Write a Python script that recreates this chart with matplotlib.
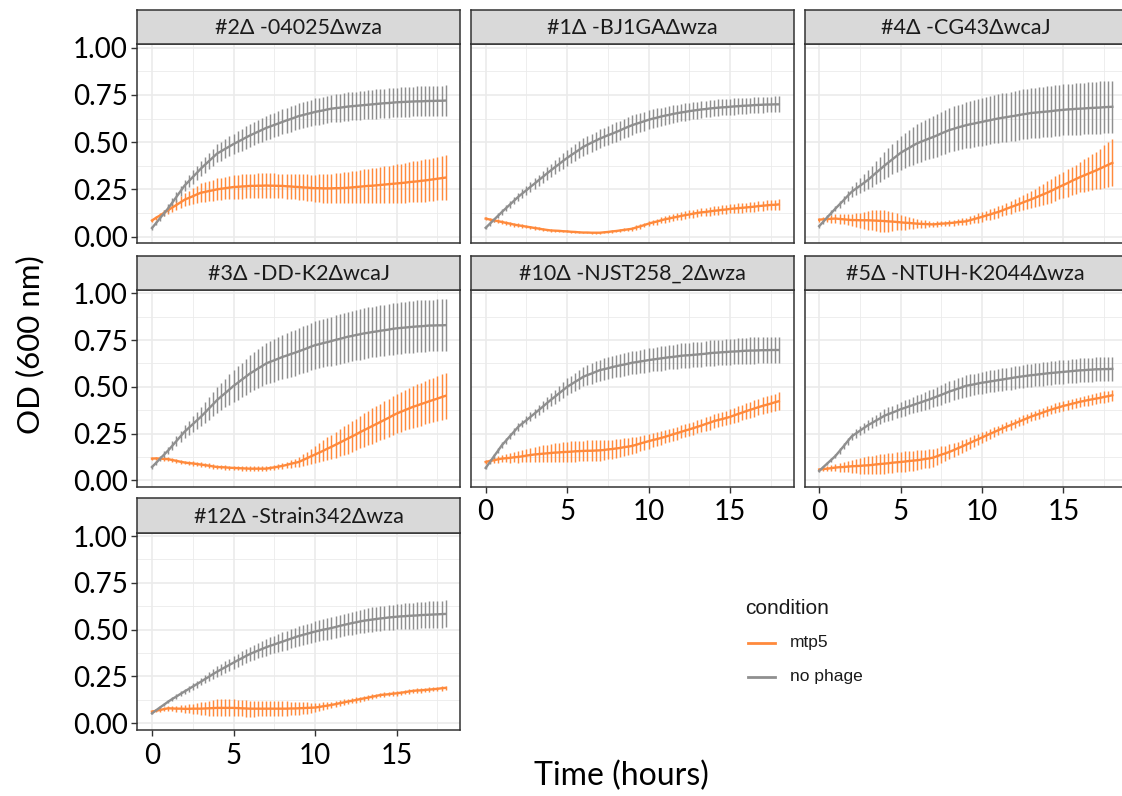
import numpy as np
import matplotlib.pyplot as plt
from matplotlib.lines import Line2D
from matplotlib.ticker import MultipleLocator, FuncFormatter

W, H = 1122, 796
MAIN = ['Lato', 'DejaVu Sans']
LEG = ['Liberation Sans', 'DejaVu Sans']

ORANGE = '#FF8A3C'
GREY = '#8F8F8F'

# sampling every 15 min over 18 h
hours = np.arange(73) * 0.25

strains = ['#2Δ -04025Δwza', '#1Δ -BJ1GAΔwza', '#4Δ -CG43ΔwcaJ',
           '#3Δ -DD-K2ΔwcaJ', '#10Δ -NJST258_2Δwza', '#5Δ -NTUH-K2044Δwza',
           '#12Δ -Strain342Δwza']

# OD600 x 1000
# --- #2 04025
nophage_04025 = [45, 71, 98, 124, 150, 180, 210, 240, 270, 292, 315, 337, 360, 380, 400, 420, 440, 452, 465, 477,
                 490, 501, 512, 524, 535, 545, 555, 565, 575, 583, 591, 599, 607, 615, 622, 630, 638, 643, 649, 654,
                 660, 664, 668, 673, 677, 680, 682, 685, 688, 690, 692, 694, 696, 698, 700, 702, 704, 706, 707, 709,
                 711, 712, 713, 714, 715, 716, 716, 717, 718, 718, 719, 719, 720]
nophage_04025_sd = [10, 12, 15, 17, 20, 22, 25, 27, 30, 32, 35, 37, 40, 42, 44, 46, 48, 50, 51, 53,
                    55, 56, 57, 59, 60, 61, 61, 62, 63, 64, 64, 65, 66, 67, 67, 68, 69, 69, 70, 70,
                    71, 71, 72, 72, 73, 73, 74, 74, 75, 75, 75, 76, 76, 76, 76, 77, 77, 77, 77, 78,
                    78, 78, 78, 79, 79, 79, 79, 80, 80, 80, 80, 80, 80]
mtp5_04025 = [85, 99, 112, 126, 140, 154, 167, 181, 195, 204, 213, 223, 232, 236, 241, 245, 250, 253, 256, 259,
              262, 263, 265, 266, 268, 268, 269, 269, 270, 269, 269, 268, 268, 266, 265, 263, 262, 260, 259, 257,
              256, 256, 255, 255, 255, 256, 256, 257, 258, 260, 262, 264, 266, 268, 269, 271, 273, 275, 277, 279,
              281, 283, 285, 288, 290, 292, 295, 297, 300, 303, 306, 309, 312]
mtp5_04025_sd = [10, 12, 15, 17, 20, 24, 27, 31, 35, 39, 42, 46, 50, 52, 54, 56, 58, 59, 60, 62,
                 63, 63, 64, 64, 65, 65, 65, 65, 65, 65, 65, 65, 65, 66, 66, 67, 68, 69, 70, 71,
                 72, 73, 75, 76, 78, 79, 80, 82, 83, 85, 86, 88, 90, 91, 93, 94, 96, 97, 99, 100,
                 102, 103, 105, 106, 108, 109, 110, 112, 113, 114, 115, 117, 118]

# --- #1 BJ1GA
nophage_bj1ga = [46, 67, 88, 109, 130, 150, 170, 190, 210, 228, 245, 263, 280, 298, 315, 333, 350, 367, 383, 400,
                 416, 431, 445, 460, 475, 486, 497, 507, 518, 527, 536, 544, 553, 562, 572, 581, 590, 597, 604, 611,
                 618, 624, 629, 635, 640, 644, 649, 653, 657, 660, 664, 667, 670, 673, 675, 678, 680, 682, 684, 685,
                 687, 689, 690, 692, 693, 694, 696, 697, 698, 699, 699, 700, 700]
nophage_bj1ga_sd = [8, 10, 11, 13, 15, 17, 18, 20, 22, 24, 25, 27, 28, 30, 31, 33, 35, 37, 38, 40,
                    42, 43, 44, 46, 47, 48, 48, 49, 50, 50, 51, 51, 52, 52, 52, 52, 52, 51, 51, 50,
                    50, 49, 49, 48, 48, 47, 47, 46, 46, 46, 45, 45, 45, 45, 44, 44, 44, 44, 43, 43,
                    43, 43, 42, 42, 42, 42, 42, 42, 42, 42, 42, 42, 42]
mtp5_bj1ga = [95, 90, 86, 81, 77, 72, 68, 63, 59, 56, 52, 49, 45, 42, 38, 35, 32, 31, 30, 28,
              27, 25, 24, 22, 21, 21, 20, 20, 20, 22, 24, 27, 29, 32, 35, 38, 41, 48, 54, 61,
              68, 74, 79, 85, 91, 95, 100, 104, 109, 113, 117, 121, 125, 128, 130, 133, 136, 138, 141, 143,
              146, 148, 150, 152, 154, 156, 158, 161, 163, 165, 167, 168, 170]
mtp5_bj1ga_sd = [10, 10, 11, 11, 12, 12, 11, 11, 10, 10, 9, 9, 8, 8, 7, 7, 6, 6, 5, 5,
                 5, 5, 5, 5, 5, 5, 5, 5, 5, 5, 6, 6, 6, 7, 8, 9, 10, 11, 12, 13,
                 14, 15, 16, 16, 17, 18, 19, 19, 20, 21, 21, 22, 22, 22, 23, 23, 23, 23, 24, 24,
                 24, 24, 25, 25, 25, 25, 26, 26, 26, 26, 27, 27, 27]

# --- #4 CG43
nophage_cg43 = [55, 78, 102, 125, 148, 170, 192, 215, 237, 253, 268, 284, 300, 319, 338, 356, 375, 392, 409, 426,
                443, 456, 468, 481, 493, 502, 510, 519, 527, 536, 546, 555, 564, 570, 577, 583, 589, 594, 598, 603,
                607, 612, 616, 621, 625, 629, 632, 636, 639, 643, 647, 650, 654, 656, 658, 660, 662, 664, 667, 669,
                671, 673, 674, 676, 677, 678, 680, 681, 682, 683, 685, 686, 687]
nophage_cg43_sd = [8, 10, 11, 13, 15, 19, 22, 26, 30, 35, 40, 45, 50, 55, 60, 65, 70, 75, 80, 85,
                   90, 93, 97, 100, 103, 105, 107, 110, 112, 114, 115, 117, 118, 119, 120, 121, 122, 123, 124, 125,
                   126, 127, 127, 128, 129, 129, 130, 130, 131, 131, 132, 132, 133, 133, 134, 134, 135, 135, 135, 136,
                   136, 136, 136, 137, 137, 137, 137, 138, 138, 138, 138, 138, 138]
mtp5_cg43 = [89, 91, 92, 94, 95, 93, 91, 89, 87, 87, 86, 86, 86, 85, 84, 83, 82, 80, 79, 77,
             75, 73, 72, 70, 68, 67, 66, 65, 64, 66, 68, 69, 71, 73, 76, 78, 80, 86, 92, 98,
             104, 111, 117, 124, 130, 138, 147, 155, 163, 171, 180, 188, 196, 205, 214, 223, 232, 242, 253, 263,
             273, 283, 294, 304, 314, 323, 332, 341, 350, 360, 370, 380, 390]
mtp5_cg43_sd = [10, 14, 17, 21, 25, 26, 27, 29, 30, 35, 40, 45, 50, 53, 55, 58, 60, 55, 50, 45,
                40, 36, 32, 29, 25, 22, 20, 17, 15, 15, 15, 15, 15, 16, 17, 19, 20, 21, 22, 24,
                25, 26, 27, 29, 30, 31, 32, 34, 35, 37, 40, 42, 45, 49, 52, 56, 60, 62, 65, 67,
                70, 72, 75, 77, 80, 85, 90, 95, 100, 106, 112, 118, 125]

# --- #3 DD-K2
nophage_ddk2 = [71, 93, 116, 138, 160, 185, 210, 235, 260, 280, 300, 320, 340, 362, 385, 407, 430, 449, 467, 486,
                505, 521, 538, 554, 571, 584, 598, 611, 625, 634, 642, 651, 660, 667, 675, 682, 690, 698, 706, 715,
                723, 728, 734, 739, 745, 751, 756, 762, 768, 772, 777, 781, 786, 789, 793, 796, 800, 803, 806, 810,
                813, 815, 817, 819, 821, 823, 824, 826, 828, 828, 829, 829, 830]
nophage_ddk2_sd = [10, 12, 15, 17, 20, 24, 27, 31, 35, 39, 42, 46, 50, 55, 60, 65, 70, 74, 77, 81,
                   85, 89, 92, 96, 100, 102, 105, 107, 110, 112, 114, 116, 118, 119, 121, 122, 124, 125, 126, 127,
                   128, 129, 129, 130, 131, 132, 132, 133, 134, 134, 135, 135, 136, 136, 136, 137, 137, 137, 137, 138,
                   138, 138, 138, 139, 139, 139, 139, 139, 139, 139, 140, 140, 140]
mtp5_ddk2 = [116, 117, 116, 114, 113, 108, 104, 99, 95, 92, 90, 87, 84, 81, 78, 74, 71, 70, 69, 67,
             66, 65, 64, 63, 62, 62, 62, 62, 62, 66, 69, 73, 77, 82, 88, 93, 98, 108, 118, 128,
             138, 148, 158, 169, 179, 190, 201, 212, 223, 234, 245, 257, 268, 279, 290, 301, 312, 323, 334, 346,
             357, 366, 375, 384, 393, 400, 408, 415, 423, 430, 437, 445, 452]
mtp5_ddk2_sd = [8, 8, 9, 9, 10, 10, 10, 10, 10, 10, 11, 11, 12, 12, 12, 12, 12, 12, 12, 12,
                12, 12, 12, 12, 12, 12, 12, 12, 12, 13, 13, 14, 15, 17, 20, 22, 25, 30, 35, 40,
                45, 50, 55, 60, 65, 69, 72, 76, 80, 82, 85, 87, 90, 92, 94, 96, 98, 100, 101, 103,
                105, 107, 108, 110, 112, 113, 115, 116, 118, 119, 121, 122, 124]

# --- #10 NJST258_2
nophage_njst = [66, 96, 127, 157, 188, 212, 237, 261, 286, 304, 321, 339, 357, 375, 393, 412, 430, 447, 465, 482,
                500, 513, 527, 540, 554, 563, 571, 580, 589, 594, 599, 605, 610, 615, 619, 624, 629, 632, 636, 639,
                643, 646, 649, 652, 655, 658, 660, 663, 666, 668, 669, 671, 673, 675, 677, 680, 682, 683, 685, 686,
                688, 689, 690, 692, 693, 694, 694, 695, 696, 696, 697, 697, 697]
nophage_njst_sd = [8, 10, 11, 13, 15, 16, 17, 19, 20, 21, 22, 24, 25, 27, 30, 32, 35, 37, 40, 42,
                   45, 47, 48, 50, 52, 53, 55, 56, 57, 58, 58, 59, 60, 60, 61, 61, 62, 62, 63, 63,
                   64, 64, 64, 65, 65, 65, 65, 66, 66, 66, 66, 67, 67, 67, 67, 68, 68, 68, 68, 69,
                   69, 69, 69, 70, 70, 70, 70, 70, 70, 70, 70, 70, 70]
mtp5_njst = [98, 103, 107, 112, 116, 118, 120, 123, 125, 128, 132, 135, 138, 140, 142, 144, 146, 148, 149, 151,
             152, 153, 155, 156, 157, 158, 158, 159, 160, 162, 165, 167, 170, 173, 177, 180, 184, 190, 197, 203,
             209, 215, 220, 226, 232, 239, 246, 252, 259, 266, 272, 279, 286, 293, 301, 308, 316, 322, 327, 333,
             339, 347, 355, 362, 370, 377, 384, 391, 398, 404, 410, 417, 423]
mtp5_njst_sd = [10, 12, 15, 17, 20, 22, 25, 27, 30, 32, 35, 37, 40, 42, 45, 47, 50, 51, 52, 54,
                55, 55, 55, 55, 55, 55, 55, 55, 55, 54, 52, 51, 50, 49, 47, 46, 45, 44, 42, 41,
                40, 39, 37, 36, 35, 35, 35, 35, 35, 35, 35, 35, 35, 36, 36, 37, 38, 38, 39, 39,
                40, 40, 41, 41, 42, 43, 43, 44, 45, 46, 46, 47, 48]

# --- #5 NTUH-K2044
nophage_ntuh = [50, 70, 90, 110, 130, 156, 182, 209, 235, 250, 265, 280, 295, 307, 320, 332, 345, 354, 362, 371,
                380, 387, 395, 402, 410, 417, 425, 432, 440, 449, 457, 466, 475, 482, 490, 497, 505, 509, 513, 518,
                522, 525, 529, 532, 536, 539, 543, 546, 550, 553, 556, 559, 562, 564, 567, 569, 572, 574, 576, 578,
                580, 582, 584, 586, 588, 589, 591, 592, 594, 594, 595, 595, 596]
nophage_ntuh_sd = [5, 7, 8, 10, 12, 14, 16, 18, 20, 22, 24, 26, 28, 30, 31, 33, 35, 36, 37, 39,
                   40, 41, 42, 44, 45, 46, 47, 49, 50, 51, 52, 53, 54, 55, 55, 56, 57, 57, 58, 58,
                   59, 59, 59, 60, 60, 60, 60, 61, 61, 61, 61, 62, 62, 62, 62, 63, 63, 63, 63, 64,
                   64, 64, 64, 64, 64, 64, 64, 64, 64, 64, 64, 64, 64]
mtp5_ntuh = [57, 60, 62, 65, 68, 70, 71, 73, 75, 76, 77, 79, 80, 82, 85, 87, 89, 91, 94, 96,
             98, 100, 103, 105, 107, 110, 114, 117, 121, 129, 137, 144, 152, 161, 171, 180, 190, 200, 210, 219,
             229, 239, 249, 258, 268, 277, 286, 295, 304, 313, 322, 331, 340, 348, 355, 363, 371, 378, 385, 391,
             398, 403, 409, 414, 420, 424, 429, 433, 437, 441, 446, 450, 455]
mtp5_ntuh_sd = [8, 11, 14, 17, 20, 24, 27, 31, 35, 38, 42, 45, 48, 49, 50, 52, 53, 53, 54, 54,
                55, 54, 54, 53, 53, 52, 50, 49, 48, 46, 44, 42, 40, 38, 36, 35, 33, 32, 30, 29,
                28, 27, 26, 26, 25, 25, 25, 25, 25, 25, 25, 25, 25, 25, 26, 26, 26, 26, 27, 27,
                27, 27, 28, 28, 28, 28, 29, 29, 29, 29, 30, 30, 30]

# --- #12 Strain342
nophage_s342 = [53, 69, 85, 100, 116, 130, 143, 157, 170, 183, 196, 209, 222, 236, 249, 263, 276, 288, 300, 312,
                324, 336, 347, 359, 370, 379, 388, 397, 406, 414, 421, 429, 436, 444, 451, 459, 466, 472, 478, 484,
                490, 495, 500, 504, 509, 514, 520, 525, 530, 535, 539, 544, 548, 551, 554, 557, 560, 562, 565, 567,
                569, 571, 572, 574, 575, 576, 578, 579, 580, 581, 582, 583, 584]
nophage_s342_sd = [5, 6, 7, 9, 10, 11, 12, 14, 15, 16, 17, 19, 20, 22, 24, 26, 28, 30, 31, 33,
                   35, 36, 37, 39, 40, 41, 42, 44, 45, 46, 47, 49, 50, 51, 51, 52, 53, 53, 54, 54,
                   55, 56, 56, 57, 58, 59, 59, 60, 61, 62, 62, 63, 64, 64, 65, 65, 66, 66, 67, 67,
                   68, 68, 69, 69, 70, 70, 70, 71, 71, 71, 71, 72, 72]
mtp5_s342 = [62, 67, 71, 76, 80, 79, 78, 78, 77, 77, 78, 78, 78, 79, 80, 81, 82, 82, 82, 82,
             82, 81, 80, 79, 78, 78, 78, 78, 78, 78, 78, 78, 78, 78, 79, 79, 80, 81, 82, 83,
             84, 87, 91, 94, 98, 102, 107, 111, 116, 120, 124, 129, 133, 137, 142, 146, 151, 153, 155, 158,
             160, 163, 166, 170, 173, 175, 176, 178, 180, 182, 184, 187, 189]
mtp5_s342_sd = [8, 9, 10, 11, 12, 14, 16, 18, 20, 24, 27, 31, 35, 37, 40, 42, 45, 45, 45, 45,
                45, 44, 43, 43, 42, 42, 41, 41, 40, 40, 40, 40, 40, 39, 37, 36, 35, 32, 30, 27,
                25, 23, 21, 20, 18, 17, 16, 16, 15, 14, 14, 13, 13, 13, 12, 12, 12, 12, 12, 12,
                12, 12, 12, 12, 12, 12, 12, 12, 12, 12, 12, 12, 12]

mtp5 = [mtp5_04025, mtp5_bj1ga, mtp5_cg43, mtp5_ddk2, mtp5_njst, mtp5_ntuh, mtp5_s342]
mtp5_sd = [mtp5_04025_sd, mtp5_bj1ga_sd, mtp5_cg43_sd, mtp5_ddk2_sd, mtp5_njst_sd, mtp5_ntuh_sd, mtp5_s342_sd]
nophage = [nophage_04025, nophage_bj1ga, nophage_cg43, nophage_ddk2, nophage_njst, nophage_ntuh, nophage_s342]
nophage_sd = [nophage_04025_sd, nophage_bj1ga_sd, nophage_cg43_sd, nophage_ddk2_sd, nophage_njst_sd,
              nophage_ntuh_sd, nophage_s342_sd]

# panel geometry in pixels (ggplot facet_wrap, 3 columns)
col_x = [(137.3, 460.3), (471.0, 793.5), (804.5, 1127.0)]
row_y = [(10.0, 44.3, 243.3), (255.6, 290.0, 487.0), (498.3, 532.7, 730.0)]


def px_axes(fig, x0, y0, x1, y1):
    return fig.add_axes([x0 / W, 1 - y1 / H, (x1 - x0) / W, (y1 - y0) / H])


fig = plt.figure(figsize=(W / 100, H / 100), dpi=100)

for i, name in enumerate(strains):
    c, r = i % 3, i // 3
    x0, x1 = col_x[c]
    st, pt, pb = row_y[r]
    ax = px_axes(fig, x0, pt, x1, pb)

    for mean, sd, col in [(mtp5[i], mtp5_sd[i], ORANGE), (nophage[i], nophage_sd[i], GREY)]:
        m = np.array(mean) / 1000
        e = np.array(sd) / 1000
        ax.errorbar(hours, m, yerr=e, color=col, lw=1.7, elinewidth=1.05, capsize=0, zorder=3)

    ax.set_xlim(-0.9, 18.9)
    ax.set_ylim(-0.036, 1.018)
    ax.xaxis.set_major_locator(MultipleLocator(5))
    ax.xaxis.set_minor_locator(MultipleLocator(2.5))
    ax.yaxis.set_major_locator(MultipleLocator(0.25))
    ax.yaxis.set_minor_locator(MultipleLocator(0.125))
    ax.yaxis.set_major_formatter(FuncFormatter(lambda v, p: f'{v:.2f}'))
    ax.grid(which='major', color='#EBEBEB', lw=1.2, zorder=0)
    ax.grid(which='minor', color='#EBEBEB', lw=0.6, zorder=0)
    ax.set_axisbelow(True)
    for s in ax.spines.values():
        s.set_color('#333333')
        s.set_linewidth(1.1)

    show_x = (i + 3) >= len(strains)
    show_y = c == 0
    ax.tick_params(which='minor', length=0)
    ax.tick_params(axis='x', which='major', length=4 if show_x else 0, width=1, color='#333333',
                   labelbottom=show_x, labelsize=20, pad=5)
    ax.tick_params(axis='y', which='major', length=4 if show_y else 0, width=1, color='#333333',
                   labelleft=show_y, labelsize=20, pad=3)
    for lab in ax.get_xticklabels() + ax.get_yticklabels():
        lab.set_family(MAIN)
        lab.set_color('black')

    sax = px_axes(fig, x0, st, x1, pt)
    sax.set_facecolor('#D9D9D9')
    sax.set_xticks([])
    sax.set_yticks([])
    for s in sax.spines.values():
        s.set_color('#333333')
        s.set_linewidth(1.1)
    sax.text(0.5, 0.47, name, ha='center', va='center', fontsize=15.5, family=MAIN, color='#1A1A1A',
             transform=sax.transAxes)

fig.text(30 / W, 1 - 345 / H, 'OD (600 nm)', rotation=90, ha='center', va='center', fontsize=22.5,
         family=MAIN, color='black')
fig.text(621 / W, 1 - 776 / H, 'Time (hours)', ha='center', va='center', fontsize=23,
         family=MAIN, color='black')

# legend
fig.text(745 / W, 1 - 608 / H, 'condition', ha='left', va='center', fontsize=15, family=LEG, color='#1A1A1A')
for yy, col, lab in [(643, ORANGE, 'mtp5'), (677, GREY, 'no phage')]:
    fig.add_artist(Line2D([748 / W, 775 / W], [1 - yy / H] * 2, color=col, lw=2.0,
                          transform=fig.transFigure))
    fig.text(790 / W, 1 - yy / H, lab, ha='left', va='center', fontsize=12.5, family=LEG, color='#1A1A1A')

fig.savefig('out.png', dpi=100)
